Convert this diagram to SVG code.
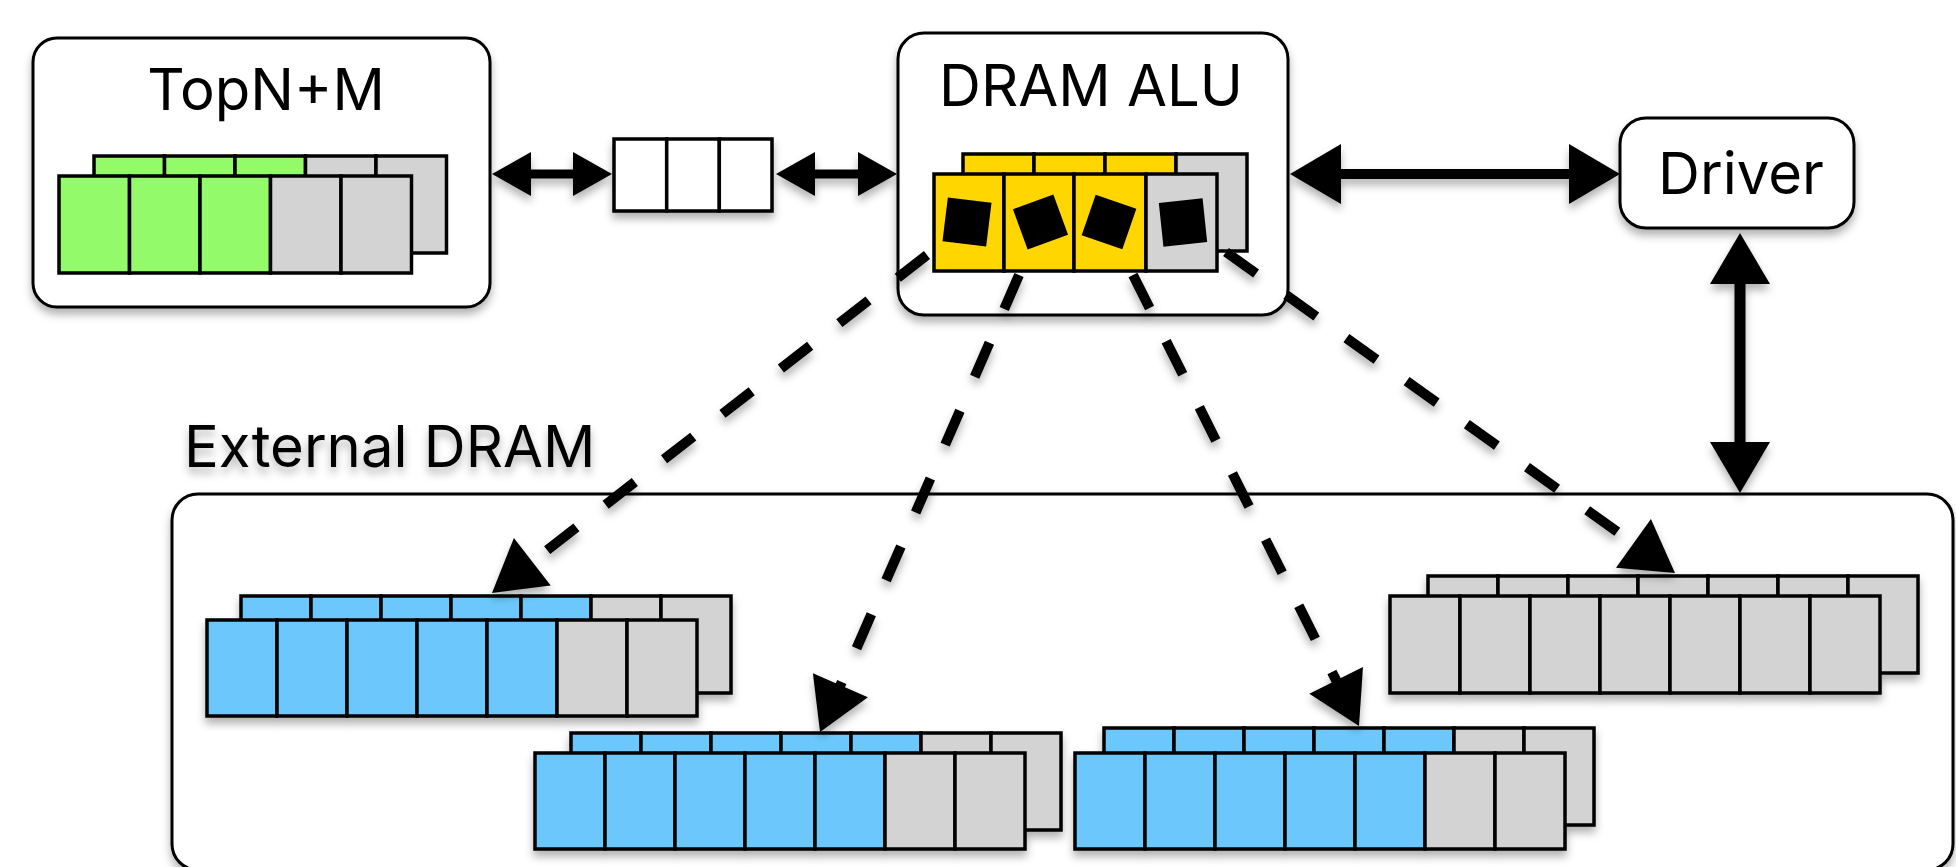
<svg xmlns="http://www.w3.org/2000/svg" width="1956" height="867" viewBox="0 0 1956 867">
<defs>
<style>
.box{fill:#fff;stroke:#000;stroke-width:3}
.c{stroke:#000;stroke-width:3.5}
.gn{fill:#93FB6B}.yl{fill:#FFD600}.bl{fill:#6CC8FC}.gy{fill:#D3D3D3}.wh{fill:#fff}
.t{font-family:Inter,"Liberation Sans",sans-serif;font-size:58px;fill:#000}
.sol{stroke:#000;fill:none}
.dash{stroke:#000;stroke-width:10;stroke-dasharray:37 37;fill:none}
.sq{fill:#000}
</style>
<filter id="sh" filterUnits="userSpaceOnUse" x="0" y="0" width="1956" height="867">
<feDropShadow dx="0" dy="6" stdDeviation="4.5" flood-color="#000" flood-opacity="0.3"/>
</filter>
<marker id="hs" markerUnits="userSpaceOnUse" viewBox="-2 -23 42 46" markerWidth="42" markerHeight="46" refX="0" refY="0" orient="auto-start-reverse">
<path d="M-1,-22 L38,0 L-1,22 Z" fill="#000"/>
</marker>
<marker id="hl" markerUnits="userSpaceOnUse" viewBox="-2 -31 54 62" markerWidth="54" markerHeight="62" refX="0" refY="0" orient="auto-start-reverse">
<path d="M-1,-30 L50,0 L-1,30 Z" fill="#000"/>
</marker>
</defs>
<rect width="1956" height="867" fill="#fff"/>

<g id="external-dram" filter="url(#sh)">
<rect class="box" x="172" y="494" width="1781" height="376" rx="26"/>
<text class="t" x="184" y="467">External DRAM</text>
</g>

<g id="topn" filter="url(#sh)">
<rect class="box" x="33" y="38" width="457" height="269" rx="24"/>
<text class="t" x="266" y="110" text-anchor="middle">TopN+M</text>
<g>
<rect class="c gn" x="94" y="156" width="70.5" height="97"/>
<rect class="c gn" x="164.5" y="156" width="70.5" height="97"/>
<rect class="c gn" x="235" y="156" width="70.5" height="97"/>
<rect class="c gy" x="305.5" y="156" width="70.5" height="97"/>
<rect class="c gy" x="376" y="156" width="70.5" height="97"/>
<rect class="c gn" x="59" y="176" width="70.5" height="97"/>
<rect class="c gn" x="129.5" y="176" width="70.5" height="97"/>
<rect class="c gn" x="200" y="176" width="70.5" height="97"/>
<rect class="c gy" x="270.5" y="176" width="70.5" height="97"/>
<rect class="c gy" x="341" y="176" width="70.5" height="97"/>
</g>
</g>

<g id="queue" filter="url(#sh)">
<rect class="c wh" x="614" y="139" width="52.7" height="72"/>
<rect class="c wh" x="666.7" y="139" width="52.6" height="72"/>
<rect class="c wh" x="719.3" y="139" width="52.7" height="72"/>
</g>

<g id="dram-alu" filter="url(#sh)">
<rect class="box" x="898" y="33" width="390" height="282" rx="26"/>
<text class="t" x="1091" y="106" text-anchor="middle">DRAM ALU</text>
<rect class="c yl" x="963" y="154" width="71" height="97"/>
<rect class="c yl" x="1034" y="154" width="71" height="97"/>
<rect class="c yl" x="1105" y="154" width="71" height="97"/>
<rect class="c gy" x="1176" y="154" width="71" height="97"/>
<rect class="c yl" x="934" y="174" width="70" height="97"/>
<rect class="c yl" x="1004" y="174" width="70" height="97"/>
<rect class="c yl" x="1074" y="174" width="72" height="97"/>
<rect class="c gy" x="1146" y="174" width="71" height="97"/>
<rect class="sq" x="-22" y="-22" width="44" height="44" transform="translate(967 222) rotate(7)"/>
<rect class="sq" x="-21.5" y="-21.5" width="43" height="43" transform="translate(1040.5 222) rotate(-20)"/>
<rect class="sq" x="-21.5" y="-21.5" width="43" height="43" transform="translate(1109 222) rotate(19)"/>
<rect class="sq" x="-22" y="-22" width="44" height="44" transform="translate(1183 222.5) rotate(-6)"/>
</g>

<g id="driver" filter="url(#sh)">
<rect class="box" x="1620" y="118" width="234" height="110" rx="26"/>
<text class="t" x="1741" y="194" text-anchor="middle">Driver</text>
</g>

<g id="bank1" filter="url(#sh)">
<rect class="c bl" x="241" y="596" width="70" height="97"/>
<rect class="c bl" x="311" y="596" width="70" height="97"/>
<rect class="c bl" x="381" y="596" width="70" height="97"/>
<rect class="c bl" x="451" y="596" width="70" height="97"/>
<rect class="c bl" x="521" y="596" width="70" height="97"/>
<rect class="c gy" x="591" y="596" width="70" height="97"/>
<rect class="c gy" x="661" y="596" width="70" height="97"/>
<rect class="c bl" x="207" y="620" width="70" height="96"/>
<rect class="c bl" x="277" y="620" width="70" height="96"/>
<rect class="c bl" x="347" y="620" width="70" height="96"/>
<rect class="c bl" x="417" y="620" width="70" height="96"/>
<rect class="c bl" x="487" y="620" width="70" height="96"/>
<rect class="c gy" x="557" y="620" width="70" height="96"/>
<rect class="c gy" x="627" y="620" width="70" height="96"/>
</g>

<g id="bank2" filter="url(#sh)">
<rect class="c bl" x="571" y="733" width="70" height="97"/>
<rect class="c bl" x="641" y="733" width="70" height="97"/>
<rect class="c bl" x="711" y="733" width="70" height="97"/>
<rect class="c bl" x="781" y="733" width="70" height="97"/>
<rect class="c bl" x="851" y="733" width="70" height="97"/>
<rect class="c gy" x="921" y="733" width="70" height="97"/>
<rect class="c gy" x="991" y="733" width="70" height="97"/>
<rect class="c bl" x="535" y="753" width="70" height="96"/>
<rect class="c bl" x="605" y="753" width="70" height="96"/>
<rect class="c bl" x="675" y="753" width="70" height="96"/>
<rect class="c bl" x="745" y="753" width="70" height="96"/>
<rect class="c bl" x="815" y="753" width="70" height="96"/>
<rect class="c gy" x="885" y="753" width="70" height="96"/>
<rect class="c gy" x="955" y="753" width="70" height="96"/>
</g>

<g id="bank3" filter="url(#sh)">
<rect class="c bl" x="1104" y="728" width="70" height="97"/>
<rect class="c bl" x="1174" y="728" width="70" height="97"/>
<rect class="c bl" x="1244" y="728" width="70" height="97"/>
<rect class="c bl" x="1314" y="728" width="70" height="97"/>
<rect class="c bl" x="1384" y="728" width="70" height="97"/>
<rect class="c gy" x="1454" y="728" width="70" height="97"/>
<rect class="c gy" x="1524" y="728" width="70" height="97"/>
<rect class="c bl" x="1075" y="753" width="70" height="96"/>
<rect class="c bl" x="1145" y="753" width="70" height="96"/>
<rect class="c bl" x="1215" y="753" width="70" height="96"/>
<rect class="c bl" x="1285" y="753" width="70" height="96"/>
<rect class="c bl" x="1355" y="753" width="70" height="96"/>
<rect class="c gy" x="1425" y="753" width="70" height="96"/>
<rect class="c gy" x="1495" y="753" width="70" height="96"/>
</g>

<g id="bank4" filter="url(#sh)">
<rect class="c gy" x="1428" y="576" width="70" height="97"/>
<rect class="c gy" x="1498" y="576" width="70" height="97"/>
<rect class="c gy" x="1568" y="576" width="70" height="97"/>
<rect class="c gy" x="1638" y="576" width="70" height="97"/>
<rect class="c gy" x="1708" y="576" width="70" height="97"/>
<rect class="c gy" x="1778" y="576" width="70" height="97"/>
<rect class="c gy" x="1848" y="576" width="70" height="97"/>
<rect class="c gy" x="1390" y="596" width="70" height="97"/>
<rect class="c gy" x="1460" y="596" width="70" height="97"/>
<rect class="c gy" x="1530" y="596" width="70" height="97"/>
<rect class="c gy" x="1600" y="596" width="70" height="97"/>
<rect class="c gy" x="1670" y="596" width="70" height="97"/>
<rect class="c gy" x="1740" y="596" width="70" height="97"/>
<rect class="c gy" x="1810" y="596" width="70" height="97"/>
</g>

<g id="connectors" filter="url(#sh)">
<line class="sol" x1="530" y1="174" x2="574" y2="174" stroke-width="9" marker-start="url(#hs)" marker-end="url(#hs)"/>
<line class="sol" x1="814" y1="174" x2="859" y2="174" stroke-width="9" marker-start="url(#hs)" marker-end="url(#hs)"/>
<line class="sol" x1="1340" y1="174" x2="1570" y2="174" stroke-width="10" marker-start="url(#hl)" marker-end="url(#hl)"/>
<line class="sol" x1="1740" y1="283" x2="1740" y2="443" stroke-width="11" marker-start="url(#hl)" marker-end="url(#hl)"/>
<line class="dash" x1="927" y1="255" x2="531.5" y2="562.3" marker-end="url(#hl)"/>
<line class="dash" x1="1019" y1="275" x2="840" y2="686.2" marker-end="url(#hl)"/>
<line class="dash" x1="1133" y1="275" x2="1336.6" y2="681.3" marker-end="url(#hl)"/>
<line class="dash" x1="1226" y1="252" x2="1634.3" y2="543.9" marker-end="url(#hl)"/>
</g>
</svg>
